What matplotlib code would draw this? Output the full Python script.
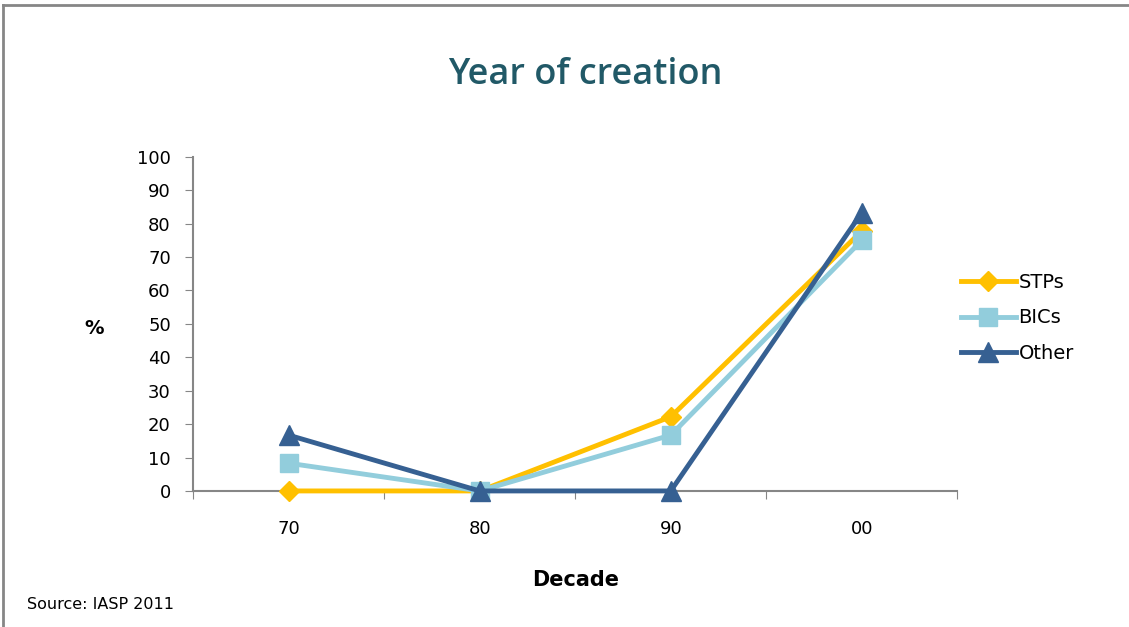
import matplotlib.pyplot as plt
from matplotlib.lines import Line2D

decades = ['70', '80', '90', '00']
stps = [0, 0, 22.2, 77.8]
bics = [8.3, 0, 16.7, 75]
other = [16.7, 0, 0, 83.3]
y_ticks = list(range(0, 101, 10))

plt.rcParams['font.family'] = ['DejaVu Sans']

fig = plt.figure(figsize=(11.29, 6.27), dpi=100)
ax = fig.add_axes([0.171, 0.217, 0.677, 0.533])

x = range(len(decades))
ax.plot(x, stps, color='#FFC000', lw=3.5, marker='D', ms=10, label='STPs', clip_on=False)
ax.plot(x, bics, color='#92CDDC', lw=3.5, marker='s', ms=13, label='BICs', clip_on=False)
ax.plot(x, other, color='#366092', lw=3.5, marker='^', ms=15, label='Other', clip_on=False)

ax.set_xlim(-0.5, 3.5)
ax.set_ylim(0, 100)
ax.set_yticks(y_ticks)
ax.set_xticks([-0.5, 0.5, 1.5, 2.5, 3.5])
ax.set_xticklabels([])
ax.set_xticks(list(x), minor=True)
ax.set_xticklabels(decades, minor=True)
ax.tick_params(axis='x', which='minor', length=0, pad=21, labelsize=13)
ax.tick_params(axis='x', which='major', length=6, color='#868686', direction='out')
ax.tick_params(axis='y', length=6, color='#868686', labelsize=13, pad=10)
for s in ['top', 'right']:
    ax.spines[s].set_visible(False)
for s in ['left', 'bottom']:
    ax.spines[s].set_color('#868686')
    ax.spines[s].set_linewidth(1.5)
ax.spines['bottom'].set_zorder(0)

ax.set_xlabel('Decade', fontsize=15, fontweight='bold', labelpad=23)
fig.text(0.083, 0.476, '%', fontsize=14, fontweight='bold', ha='center', va='center')

fig.text(0.518, 0.88, 'Year of creation', fontsize=26, color='#215967',
         ha='center', va='center', family=['Open Sans', 'DejaVu Sans'],
         fontweight='semibold')

ax.legend(loc='center left', bbox_to_anchor=(0.982, 0.518), frameon=False,
          fontsize=14, handlelength=2.8, handletextpad=0.15, labelspacing=0.85)

fig.text(0.024, 0.036, 'Source: IASP 2011', fontsize=11.5, ha='left', va='center')

# frame around the slide region
fig.add_artist(Line2D([0.003, 0.003], [0.0, 0.992], transform=fig.transFigure,
                      color='#868686', lw=2))
fig.add_artist(Line2D([0.003, 1.0], [0.992, 0.992], transform=fig.transFigure,
                      color='#868686', lw=2))

fig.savefig('out.png', dpi=100)
